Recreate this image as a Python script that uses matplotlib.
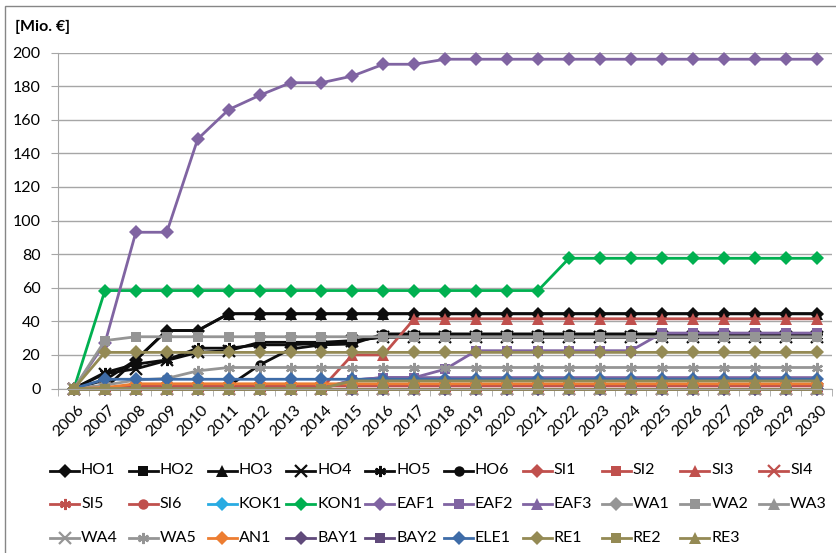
import matplotlib
matplotlib.use('Agg')
import matplotlib.pyplot as plt
import matplotlib.transforms as mtransforms
from matplotlib.lines import Line2D
from matplotlib.patches import Rectangle

plt.rcParams['font.family'] = ['Lato', 'DejaVu Sans']

# Jahre (Kategorien der x-Achse)
years = [str(y) for y in range(2006, 2031)]

# Kumulierte Werte je Maßnahme [Mio. €]
HO1 = [0, 5, 17, 34.5, 34.5] + [44.5] * 20
HO2 = [0] * 25
HO3 = [0, 0, 17, 34.5, 34.5] + [44.5] * 20
HO4 = [0, 8.8, 11.7, 16.7, 21.5, 22.5, 27.5, 27.5, 27.5, 28.5] + [30.5] * 15
HO5 = [0, 9.5, 14.5, 17, 24, 24, 26, 26, 27, 28] + [31] * 15
HO6 = [0, 0, 1, 1, 1, 1.5, 14, 23.5, 26, 26.5] + [32.5] * 15
SI1 = [0, 0] + [1.5] * 23
SI2 = [0] * 25
SI3 = [0] * 9 + [20, 20] + [41.5] * 14
SI4 = [0] * 25
SI5 = [0] * 25
SI6 = [0] * 25
KOK1 = [0] * 25
KON1 = [0] + [58.3] * 15 + [77.5] * 9
EAF1 = [0, 27, 93, 93, 148.5, 166, 174.5, 182, 182, 186, 193, 193] + [196] * 13
EAF2 = [0] * 9 + [5, 6.5, 6.5, 11.5] + [22.5] * 6 + [33] * 6
EAF3 = [0] * 9 + [5] + [6.5] * 15
WA1 = [0] * 25
WA2 = [0, 28.5] + [30.8] * 23
WA3 = [0] * 25
WA4 = [0] * 25
WA5 = [0, 2, 5, 6, 10.5] + [12.5] * 20
AN1 = [0, 0.5] + [2.8] * 23
BAY1 = [0] * 25
BAY2 = [0] * 25
ELE1 = [0] + [5.5] * 24
RE1 = [0] + [21.5] * 24
RE2 = [0] * 25
RE3 = [0] * 9 + [4.5] * 16

# Farben und Marker
schwarz = '#0d0d0d'
rot = '#C0504D'
lila = '#8064A2'
grau = '#959595'
oliv = '#948A54'
stern = (6, 2, 0)

serien = [
    ('HO1', HO1, schwarz, 'D'), ('HO2', HO2, schwarz, 's'), ('HO3', HO3, schwarz, '^'),
    ('HO4', HO4, schwarz, 'x'), ('HO5', HO5, schwarz, stern), ('HO6', HO6, schwarz, 'o'),
    ('SI1', SI1, rot, 'D'), ('SI2', SI2, rot, 's'), ('SI3', SI3, rot, '^'),
    ('SI4', SI4, rot, 'x'), ('SI5', SI5, rot, stern), ('SI6', SI6, rot, 'o'),
    ('KOK1', KOK1, '#29ABE2', 'D'), ('KON1', KON1, '#00B050', 'D'),
    ('EAF1', EAF1, lila, 'D'), ('EAF2', EAF2, lila, 's'), ('EAF3', EAF3, lila, '^'),
    ('WA1', WA1, grau, 'D'), ('WA2', WA2, grau, 's'), ('WA3', WA3, grau, '^'),
    ('WA4', WA4, grau, 'x'), ('WA5', WA5, grau, stern),
    ('AN1', AN1, '#ED7D31', 'D'), ('BAY1', BAY1, '#604A7B', 'D'), ('BAY2', BAY2, '#604A7B', 's'),
    ('ELE1', ELE1, '#3E6CA8', 'D'), ('RE1', RE1, oliv, 'D'), ('RE2', RE2, oliv, 's'),
    ('RE3', RE3, oliv, '^'),
]

W, H = 837, 553
fig = plt.figure(figsize=(W / 100, H / 100), dpi=100)
px = lambda x, y: (x / W, 1 - y / H)

# Rahmen um das Diagramm (rechts und unten angeschnitten)
fig.add_artist(Rectangle(px(5.5, 560), 850 / W, 554.5 / H, transform=fig.transFigure,
                         fill=False, edgecolor='#868686', lw=1))

ax = fig.add_axes([58.5 / W, 1 - 388.5 / H, (832 - 58.5) / W, (388.5 - 52.5) / H])
x = list(range(len(years)))


def stil(marker):
    if marker in ('x', stern):
        return dict(markersize=8, markeredgewidth=1.6)
    if marker == 'o':
        return dict(markersize=7.5, markeredgewidth=0)
    if marker == 's':
        return dict(markersize=7.8, markeredgewidth=0)
    if marker == '^':
        return dict(markersize=8, markeredgewidth=0)
    return dict(markersize=7, markeredgewidth=0)


for name, werte, farbe, marker in serien:
    ax.plot(x, werte, color=farbe, lw=2, marker=marker, markerfacecolor=farbe,
            markeredgecolor=farbe, clip_on=False, **stil(marker))

ax.set_xlim(-0.5, 24.5)
ax.set_ylim(0, 200)
ax.set_yticks(range(0, 201, 20))
ax.grid(axis='y', color='#A6A6A6', lw=1)
ax.set_axisbelow(True)
for s in ['top', 'right']:
    ax.spines[s].set_visible(False)
for s in ['left', 'bottom']:
    ax.spines[s].set_color('#A6A6A6')
ax.tick_params(axis='y', length=5, color='#A6A6A6', labelsize=11.5, pad=8)

# Teilstriche zwischen den Kategorien, Beschriftung in der Mitte
ax.set_xticks([i + 0.5 for i in range(-1, 25)], minor=True)
ax.set_xticks(x)
ax.set_xticklabels(years, rotation=45, ha='right', va='center', rotation_mode='anchor')
ax.tick_params(axis='x', which='major', length=0, labelsize=11.5, pad=14)
ax.tick_params(axis='x', which='minor', length=5, color='#A6A6A6')
verschiebung = mtransforms.ScaledTranslation(8 / 100, 0, fig.dpi_scale_trans)
for lab in ax.get_xticklabels():
    lab.set_transform(lab.get_transform() + verschiebung)

fig.text(*px(15, 27), '[Mio. €]', fontsize=11.5, fontweight='bold', va='center')

# Legende: 3 Zeilen, 10 Spalten
for i, (name, werte, farbe, marker) in enumerate(serien):
    zeile, spalte = divmod(i, 10)
    x0 = 50 + spalte * 78.8
    y0 = 470.5 + zeile * 33.6
    fig.add_artist(Line2D([x0 / W, (x0 + 29) / W], [1 - y0 / H] * 2, transform=fig.transFigure,
                          color=farbe, lw=2))
    fig.add_artist(Line2D([(x0 + 14.5) / W], [1 - y0 / H], transform=fig.transFigure,
                          color=farbe, marker=marker, markerfacecolor=farbe,
                          markeredgecolor=farbe, **stil(marker)))
    fig.text((x0 + 31) / W, 1 - y0 / H, name, fontsize=11.5, va='center')

fig.savefig('out.png', dpi=100)
